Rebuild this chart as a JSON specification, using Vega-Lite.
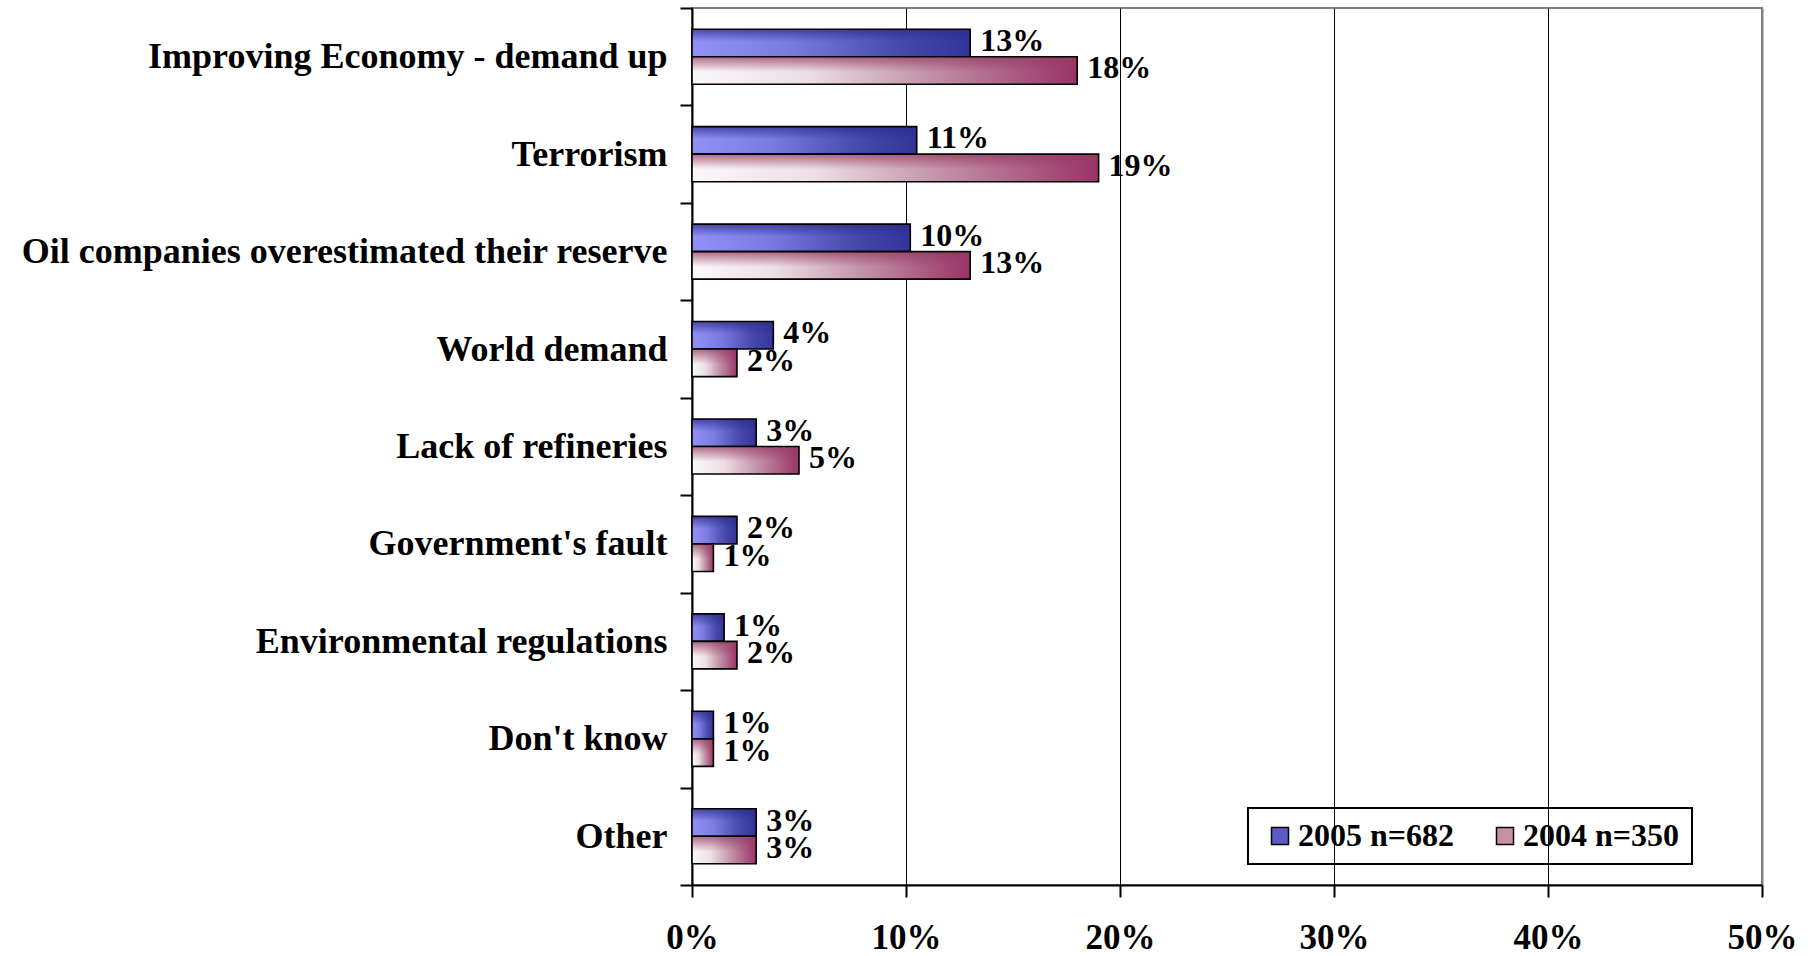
{
  "$schema": "https://vega.github.io/schema/vega-lite/v6.json",
  "width": 1070,
  "height": 877,
  "autosize": {"type": "none"},
  "padding": {"left": 692, "top": 8, "right": 51, "bottom": 71},
  "background": "white",
  "config": {
    "view": {"stroke": "#808080", "strokeWidth": 2},
    "font": "Liberation Serif"
  },
  "data": {
    "values": [
      {"cause": "Improving Economy - demand up", "series": "2005 n=682", "value": 13.0, "label": "13%"},
      {"cause": "Improving Economy - demand up", "series": "2004 n=350", "value": 18.0, "label": "18%"},
      {"cause": "Terrorism", "series": "2005 n=682", "value": 10.5, "label": "11%"},
      {"cause": "Terrorism", "series": "2004 n=350", "value": 19.0, "label": "19%"},
      {"cause": "Oil companies overestimated their reserve", "series": "2005 n=682", "value": 10.2, "label": "10%"},
      {"cause": "Oil companies overestimated their reserve", "series": "2004 n=350", "value": 13.0, "label": "13%"},
      {"cause": "World demand", "series": "2005 n=682", "value": 3.8, "label": "4%"},
      {"cause": "World demand", "series": "2004 n=350", "value": 2.1, "label": "2%"},
      {"cause": "Lack of refineries", "series": "2005 n=682", "value": 3.0, "label": "3%"},
      {"cause": "Lack of refineries", "series": "2004 n=350", "value": 5.0, "label": "5%"},
      {"cause": "Government's fault", "series": "2005 n=682", "value": 2.1, "label": "2%"},
      {"cause": "Government's fault", "series": "2004 n=350", "value": 1.0, "label": "1%"},
      {"cause": "Environmental regulations", "series": "2005 n=682", "value": 1.5, "label": "1%"},
      {"cause": "Environmental regulations", "series": "2004 n=350", "value": 2.1, "label": "2%"},
      {"cause": "Don't know", "series": "2005 n=682", "value": 1.0, "label": "1%"},
      {"cause": "Don't know", "series": "2004 n=350", "value": 1.0, "label": "1%"},
      {"cause": "Other", "series": "2005 n=682", "value": 3.0, "label": "3%"},
      {"cause": "Other", "series": "2004 n=350", "value": 3.0, "label": "3%"}
    ]
  },
  "encoding": {
    "y": {
      "field": "cause",
      "type": "nominal",
      "sort": null,
      "scale": {"paddingInner": 0, "paddingOuter": 0},
      "axis": {
        "title": null,
        "labelFont": "Liberation Serif",
        "labelFontSize": 36,
        "labelFontWeight": "bold",
        "labelColor": "black",
        "labelPadding": 13,
        "labelOffset": 0,
        "labelLimit": 0,
        "tickBand": "extent",
        "tickSize": 12,
        "tickWidth": 2,
        "tickColor": "black",
        "domainColor": "black",
        "domainWidth": 2,
        "grid": false
      }
    },
    "yOffset": {
      "field": "series",
      "type": "nominal",
      "sort": null,
      "scale": {"domain": ["2005 n=682", "2004 n=350"], "paddingInner": 0, "paddingOuter": 0.77}
    },
    "x": {
      "field": "value",
      "type": "quantitative",
      "scale": {"domain": [0, 50], "nice": false},
      "axis": {
        "title": null,
        "values": [0, 10, 20, 30, 40, 50],
        "labelExpr": "datum.value + '%'",
        "labelFont": "Liberation Serif",
        "labelFontSize": 35,
        "labelFontWeight": "bold",
        "labelColor": "black",
        "labelPadding": 23,
        "labelFlush": false,
        "labelOverlap": false,
        "tickSize": 12,
        "tickWidth": 2,
        "tickColor": "black",
        "domainColor": "black",
        "domainWidth": 2,
        "grid": true,
        "gridColor": {"condition": {"test": "datum.value >= 50", "value": "#808080"}, "value": "black"},
        "gridWidth": {"condition": {"test": "datum.value >= 50", "value": 2}, "value": 1},
        "gridOpacity": 1
      }
    }
  },
  "layer": [
    {
      "transform": [{"filter": "datum.series === '2005 n=682'"}],
      "mark": {
        "type": "bar",
        "fill": {"gradient": "linear", "x1": 0, "y1": 0, "x2": 1, "y2": 0,
          "stops": [
            {"offset": 0, "color": "#9292f6"},
            {"offset": 0.35, "color": "#7a7ae0"},
            {"offset": 0.75, "color": "#4848ab"},
            {"offset": 1, "color": "#333399"}
          ]},
        "strokeWidth": 0
      }
    },
    {
      "transform": [{"filter": "datum.series === '2005 n=682'"}],
      "mark": {
        "type": "bar",
        "fill": {"gradient": "linear", "x1": 0, "y1": 0, "x2": 0, "y2": 1,
          "stops": [
            {"offset": 0, "color": "rgba(45,45,140,0.75)"},
            {"offset": 0.45, "color": "rgba(45,45,140,0)"},
            {"offset": 1, "color": "rgba(45,45,140,0)"}
          ]},
        "stroke": "black",
        "strokeWidth": 1.6
      }
    },
    {
      "transform": [{"filter": "datum.series === '2004 n=350'"}],
      "mark": {
        "type": "bar",
        "fill": {"gradient": "linear", "x1": 0, "y1": 0, "x2": 1, "y2": 0,
          "stops": [
            {"offset": 0, "color": "#fbf8f9"},
            {"offset": 0.3, "color": "#ecdfe4"},
            {"offset": 0.6, "color": "#c495a9"},
            {"offset": 1, "color": "#993366"}
          ]},
        "strokeWidth": 0
      }
    },
    {
      "transform": [{"filter": "datum.series === '2004 n=350'"}],
      "mark": {
        "type": "bar",
        "fill": {"gradient": "linear", "x1": 0, "y1": 0, "x2": 0, "y2": 1,
          "stops": [
            {"offset": 0, "color": "rgba(150,60,100,0.75)"},
            {"offset": 0.55, "color": "rgba(150,60,100,0)"},
            {"offset": 1, "color": "rgba(150,60,100,0)"}
          ]},
        "stroke": "black",
        "strokeWidth": 1.6
      }
    },
    {
      "mark": {"type": "text", "align": "left", "baseline": "middle", "dx": 10, "dy": -2, "fontSize": 32, "fontWeight": "bold", "font": "Liberation Serif", "color": "black"},
      "encoding": {"text": {"field": "label"}}
    },
    {
      "mark": {"type": "square", "opacity": 0, "filled": true},
      "encoding": {
        "color": {
          "field": "series",
          "type": "nominal",
          "scale": {"domain": ["2005 n=682", "2004 n=350"], "range": ["#5c5cc8", "#c890a8"]},
          "legend": {
            "title": null,
            "orient": "none",
            "legendX": 556,
            "legendY": 800,
            "direction": "horizontal",
            "strokeColor": "black",
            "padding": 12,
            "symbolType": "square",
            "symbolSize": 289,
            "symbolOffset": 4,
            "labelFont": "Liberation Serif",
            "labelFontSize": 32,
            "labelFontWeight": "bold",
            "labelColor": "black",
            "labelOffset": 2,
            "columnPadding": 30,
            "labelLimit": 0,
            "encode": {
              "symbols": {"update": {"stroke": {"value": "black"}, "strokeWidth": {"value": 1.5}, "opacity": {"value": 1}}},
              "legend": {"update": {"strokeWidth": {"value": 2}}}
            }
          }
        }
      }
    }
  ]
}
